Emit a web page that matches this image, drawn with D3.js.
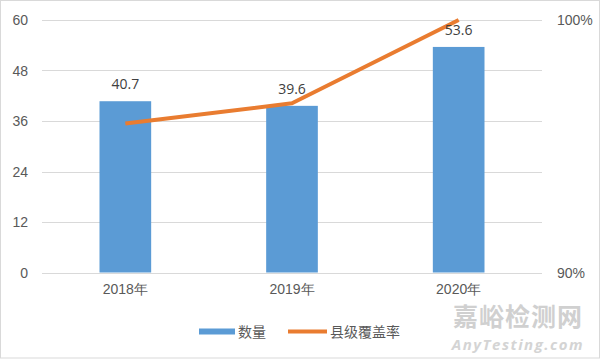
<!DOCTYPE html>
<html><head><meta charset="utf-8">
<script src="https://cdn.jsdelivr.net/npm/d3@7"></script>
<style>
html,body{margin:0;padding:0;background:#fff;}
svg{display:block;font-family:"Open Sans","Noto Sans CJK SC",sans-serif;}
</style></head>
<body>
<svg id="chart" width="600" height="359"></svg>
<script>
const categories = ["2018年", "2019年", "2020年"];
const counts = [40.7, 39.6, 53.6];
const coverage = [0.959, 0.967, 1.0];
const leftTicks = [0, 12, 24, 36, 48, 60];
const rightTicks = [0.9, 1.0];
const seriesNames = ["数量", "县级覆盖率"];

const svg = d3.select("#chart");
const W = 600, H = 359;
const m = {left: 42, right: 58, top: 20, bottom: 86.5};
const x = d3.scaleBand().domain(categories).range([m.left, W - m.right]).paddingInner(0.69).paddingOuter(0.345);
const y = d3.scaleLinear().domain([0, 60]).range([H - m.bottom, m.top]);
const y2 = d3.scaleLinear().domain([0.9, 1.0]).range([H - m.bottom, m.top]);
const textCol = "#595959";

// border
svg.append("rect").attr("x", 0.5).attr("y", 0.5).attr("width", W - 1).attr("height", H - 1.5)
  .attr("fill", "none").attr("stroke", "#d9d9d9");

// gridlines
svg.append("g").selectAll("line").data(leftTicks).join("line")
  .attr("x1", m.left).attr("x2", W - m.right)
  .attr("y1", d => Math.round(y(d)) + 0.5).attr("y2", d => Math.round(y(d)) + 0.5)
  .attr("stroke", "#d9d9d9").attr("stroke-width", 1);

// left axis
const la = svg.append("g").attr("transform", `translate(${m.left - 14},0)`)
  .call(d3.axisLeft(y).tickValues(leftTicks).tickSize(0).tickPadding(0));
la.select(".domain").remove();
la.selectAll("text").attr("fill", textCol).attr("font-size", 14).attr("dy", "0.35em");

// right axis
const ra = svg.append("g").attr("transform", `translate(${W - m.right + 15},0)`)
  .call(d3.axisRight(y2).tickValues(rightTicks).tickFormat(d3.format(".0%")).tickSize(0).tickPadding(0));
ra.select(".domain").remove();
ra.selectAll("text").attr("fill", textCol).attr("font-size", 14).attr("dy", "0.35em");

// bottom axis labels
const ba = svg.append("g").attr("transform", `translate(0,${H - m.bottom + 12})`)
  .call(d3.axisBottom(x).tickSize(0).tickPadding(0));
ba.select(".domain").remove();
ba.selectAll("text").attr("fill", textCol).attr("font-size", 14).attr("dy", "0.71em");

// bars
svg.append("g").selectAll("rect").data(counts).join("rect")
  .attr("x", (d, i) => x(categories[i])).attr("width", x.bandwidth())
  .attr("y", d => y(d)).attr("height", d => y(0) - y(d))
  .attr("fill", "#5B9BD5");

// line
const line = d3.line().x((d, i) => x(categories[i]) + x.bandwidth() / 2).y(d => y2(d));
svg.append("path").datum(coverage).attr("d", line)
  .attr("fill", "none").attr("stroke", "#E97C30").attr("stroke-width", 4)
  .attr("stroke-linejoin", "round").attr("stroke-linecap", "butt");

// bar labels
svg.append("g").selectAll("text").data(counts).join("text")
  .attr("x", (d, i) => x(categories[i]) + x.bandwidth() / 2)
  .attr("y", d => y(d) - 12)
  .attr("text-anchor", "middle").attr("fill", "#404040").attr("font-size", 14)
  .text(d => d3.format(".1f")(d));

// legend
const lg = svg.append("g");
lg.append("rect").attr("x", 199).attr("y", 328.5).attr("width", 36).attr("height", 6).attr("fill", "#5B9BD5");
lg.append("text").attr("x", 238).attr("y", 332).attr("dy", "0.35em").attr("fill", textCol).attr("font-size", 14).text(seriesNames[0]);
lg.append("line").attr("x1", 288).attr("x2", 327).attr("y1", 331.5).attr("y2", 331.5).attr("stroke", "#E97C30").attr("stroke-width", 4);
lg.append("text").attr("x", 330).attr("y", 332).attr("dy", "0.35em").attr("fill", textCol).attr("font-size", 14).text(seriesNames[1]);

// watermark
svg.append("text").attr("x", 518).attr("y", 326).attr("text-anchor", "middle")
  .attr("font-size", 25).attr("font-weight", "bold").attr("fill", "#d0d0d0")
  .attr("font-family", "Noto Sans CJK SC").attr("letter-spacing", 1).text("嘉峪检测网");
svg.append("text").attr("x", 518).attr("y", 350).attr("text-anchor", "middle")
  .attr("font-size", 15).attr("font-weight", "bold").attr("font-style", "italic").attr("fill", "#d4d4d4")
  .attr("letter-spacing", 1.5).text("AnyTesting.com");
</script>
</body></html>
